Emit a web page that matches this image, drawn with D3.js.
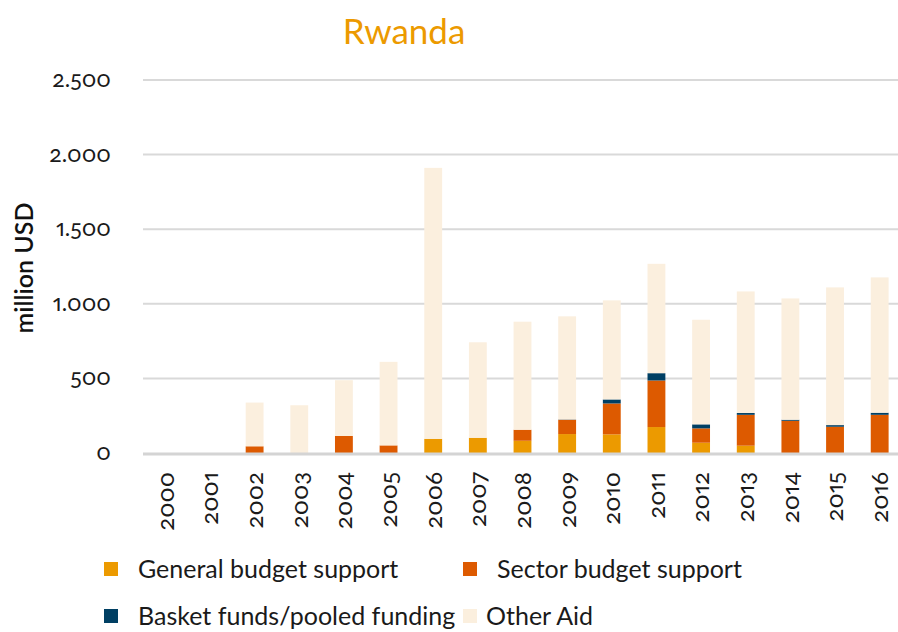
<!DOCTYPE html>
<html>
<head>
<meta charset="utf-8">
<script src="https://cdn.jsdelivr.net/npm/d3@7"></script>
<style>
  html, body { margin: 0; padding: 0; background: #fff; }
  svg text { font-family: "Lato", "Noto Sans", sans-serif; }
  .num { font-variant-numeric: oldstyle-nums proportional-nums; font-feature-settings: "onum" 1, "pnum" 1; }
</style>
</head>
<body>
<svg id="chart" width="898" height="632"></svg>
<script>
const years = ["2000","2001","2002","2003","2004","2005","2006","2007","2008","2009","2010","2011","2012","2013","2014","2015","2016"];
const generalBudget = [0, 0, 0, 0, 0, 0, 95, 102, 82, 127, 125, 174, 69, 49, 0, 0, 0];
const sectorBudget  = [0, 0, 45, 0, 114, 51, 0, 0, 74, 96, 207, 312, 96, 207, 216, 176, 256];
const basketFunds   = [0, 0, 0, 0, 0, 0, 0, 0, 0, 2, 27, 49, 27, 12, 7, 11, 14];
const otherAid      = [0, 0, 293, 320, 374, 560, 1816, 640, 724, 691, 664, 733, 701, 815, 813, 923, 907];
const yTicks = [0, 500, 1000, 1500, 2000, 2500];
const seriesNames = ["General budget support", "Sector budget support", "Basket funds/pooled funding", "Other Aid"];
const seriesColors = ["#EC9A00", "#DD5A00", "#003F63", "#FBEFDE"];

const svg = d3.select("#chart");
const plot = { left: 143, right: 904, top: 80, bottom: 453 };

const x = d3.scaleBand().domain(years).range([plot.left, plot.right - 2]).paddingInner(0.6).paddingOuter(0.3);
const y = d3.scaleLinear().domain([0, 2500]).range([plot.bottom, plot.top]);

// Title
svg.append("text").attr("x", 404).attr("y", 44).attr("text-anchor", "middle")
  .attr("fill", "#EC9A00").attr("font-size", 35).text("Rwanda");

// Gridlines
svg.append("g").selectAll("line").data(yTicks.filter(d => d > 0)).join("line")
  .attr("x1", plot.left).attr("x2", plot.right)
  .attr("y1", d => y(d)).attr("y2", d => y(d))
  .attr("stroke", "#d9d9d9").attr("stroke-width", 2);

// Y tick labels
const fmt = d => d3.format(",")(d).replace(/,/g, ".");
svg.append("g").selectAll("text").data(yTicks).join("text")
  .attr("class", "num")
  .attr("x", 111).attr("y", d => y(d)).attr("dy", "0.3em")
  .attr("text-anchor", "end").attr("font-size", 23).attr("fill", "#1a1a1a")
  .text(fmt);

// Y axis title
svg.append("text").attr("transform", "translate(33,268) rotate(-90)")
  .attr("text-anchor", "middle").attr("font-size", 25).attr("font-weight", 600)
  .attr("fill", "#111").text("million USD");

// Stacked bars
const rows = years.map((yr, i) => ({ year: yr, s0: generalBudget[i], s1: sectorBudget[i], s2: basketFunds[i], s3: otherAid[i] }));
const stack = d3.stack().keys(["s0", "s1", "s2", "s3"])(rows);
svg.append("g").selectAll("g").data(stack).join("g")
  .attr("fill", (d, i) => seriesColors[i])
  .selectAll("rect").data(d => d).join("rect")
  .attr("x", d => x(d.data.year))
  .attr("width", x.bandwidth())
  .attr("y", d => y(d[1]))
  .attr("height", d => Math.max(0, y(d[0]) - y(d[1])));

// Baseline axis
svg.append("line").attr("x1", plot.left).attr("x2", plot.right)
  .attr("y1", y(0) + 1).attr("y2", y(0) + 1)
  .attr("stroke", "#d4d4d4").attr("stroke-width", 3);

// X labels
svg.append("g").selectAll("text").data(years).join("text")
  .attr("class", "num")
  .attr("transform", d => `translate(${x(d) + x.bandwidth() / 2},472) rotate(-90)`)
  .attr("dy", "0.35em").attr("text-anchor", "end")
  .attr("font-size", 24).attr("fill", "#1a1a1a").text(d => d);

// Legend
const legendPos = [[104, 569], [463, 569], [104, 616], [463, 616]];
const legendTextX = [138, 497, 138, 486];
const lg = svg.append("g").selectAll("g").data(seriesNames).join("g");
lg.append("rect").attr("x", (d, i) => legendPos[i][0]).attr("y", (d, i) => legendPos[i][1] - 7)
  .attr("width", 14).attr("height", 14).attr("fill", (d, i) => seriesColors[i]);
lg.append("text").attr("x", (d, i) => legendTextX[i]).attr("y", (d, i) => legendPos[i][1])
  .attr("dy", "0.35em").attr("font-size", 25).attr("fill", "#1a1a1a").text(d => d);
</script>
</body>
</html>
